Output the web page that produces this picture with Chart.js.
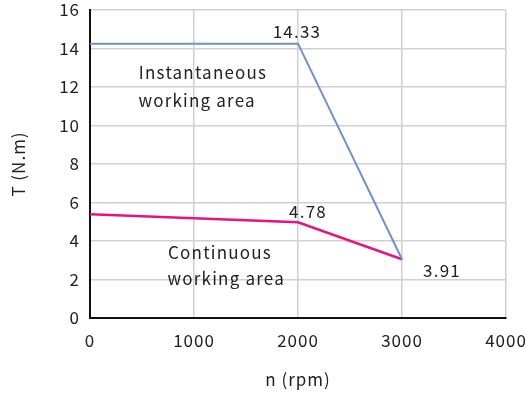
<!DOCTYPE html>
<html>
<head>
<meta charset="utf-8">
<script src="https://cdn.jsdelivr.net/npm/chart.js@4"></script>
<style>
  html, body { margin: 0; padding: 0; background: #fff; }
  #wrap { width: 526px; height: 396px; }
</style>
</head>
<body>
<div id="wrap"><canvas id="chart" width="526" height="396"></canvas></div>
<script>
// speed (rpm) and torque (N.m)
const speeds = [0, 2000, 3000];
const peakTorque = [14.25, 14.25, 3.05];
const ratedTorque = [5.39, 4.97, 3.05];
const xTicks = [0, 1000, 2000, 3000, 4000];
const yTicks = [0, 2, 4, 6, 8, 10, 12, 14, 16];

// text notes placed in data units
const notes = [
  { text: '14.33', x: 1990, y: 14.9 },
  { text: 'Instantaneous', x: 1087, y: 12.73 },
  { text: 'working area', x: 1030, y: 11.3 },
  { text: '4.78', x: 2096, y: 5.52 },
  { text: 'Continuous', x: 1250, y: 3.39 },
  { text: 'working area', x: 1310, y: 2.06 },
  { text: '3.91', x: 3385, y: 2.49 }
];

const FONT = '"Noto Sans CJK SC", "Noto Sans", sans-serif';
const ctx = document.getElementById('chart').getContext('2d');

const spacingPlugin = {
  id: 'spacing',
  beforeDraw(chart) { chart.ctx.letterSpacing = '1px'; }
};

const notePlugin = {
  id: 'notes',
  afterDatasetsDraw(chart) {
    const c = chart.ctx;
    const xs = chart.scales.x, ys = chart.scales.y;
    c.save();
    c.letterSpacing = '1.2px';
    c.font = '17px ' + FONT;
    c.fillStyle = '#222';
    c.textAlign = 'center';
    c.textBaseline = 'middle';
    notes.forEach(n => {
      c.fillText(n.text, xs.getPixelForValue(n.x), ys.getPixelForValue(n.y));
    });
    c.restore();
  }
};

new Chart(ctx, {
  type: 'line',
  data: {
    datasets: [
      {
        data: speeds.map((s, i) => ({ x: s, y: peakTorque[i] })),
        borderColor: '#6e8fd2',
        borderWidth: 2,
        pointRadius: 0,
        tension: 0
      },
      {
        data: speeds.map((s, i) => ({ x: s, y: ratedTorque[i] })),
        borderColor: '#e8147e',
        borderWidth: 2.5,
        pointRadius: 0,
        tension: 0
      }
    ]
  },
  options: {
    responsive: false,
    animation: false,
    layout: { padding: { left: 4, right: 20, top: 10, bottom: 2 } },
    plugins: { legend: { display: false }, tooltip: { enabled: false } },
    scales: {
      x: {
        type: 'linear',
        min: 0,
        max: 4000,
        afterBuildTicks: s => { s.ticks = xTicks.map(v => ({ value: v })); },
        afterFit: s => { s.height = 76; s.paddingLeft = 0; s.paddingRight = 0; },
        ticks: { color: '#222', font: { family: FONT, size: 17 }, padding: 12, maxRotation: 0,
                 callback: v => String(v) },
        grid: { color: '#d0d0d0', lineWidth: 1.5, drawTicks: false },
        border: { color: '#111', width: 2 },
        title: { display: true, text: 'n (rpm)', color: '#222', font: { family: FONT, size: 17 } }
      },
      y: {
        min: 0,
        max: 16,
        afterBuildTicks: s => { s.ticks = yTicks.map(v => ({ value: v })); },
        afterFit: s => { s.width = 86; s.paddingTop = 0; s.paddingBottom = 0; },
        ticks: { color: '#222', font: { family: FONT, size: 17 }, padding: 10 },
        grid: { color: '#d0d0d0', lineWidth: 1.5, drawTicks: false },
        border: { color: '#111', width: 2 },
        title: { display: true, text: 'T (N.m)', color: '#222', font: { family: FONT, size: 17 } }
      }
    }
  },
  plugins: [spacingPlugin, notePlugin]
});
</script>
</body>
</html>
